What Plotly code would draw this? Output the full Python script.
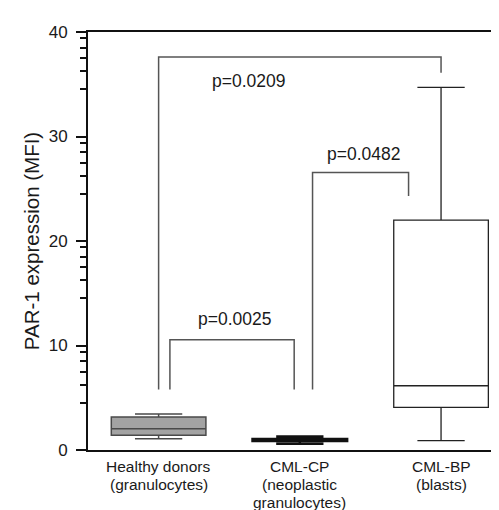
import plotly.graph_objects as go

# ---- data ----
category_lines = [["Healthy donors", "(granulocytes)"],
                  ["CML-CP", "(neoplastic", "granulocytes)"],
                  ["CML-BP", "(blasts)"]]
lower_whisker = [1.08, 0.60, 0.89]
q1_vals = [1.40, 0.85, 4.08]
median_vals = [2.04, 0.95, 6.15]
q3_vals = [3.16, 1.05, 22.0]
upper_whisker = [3.44, 1.30, 34.7]

# significance brackets
bracket_x_left = [0.08, 0.0, 1.09]
bracket_x_right = [0.96, 2.0, 1.77]
bracket_y_top = [10.55, 37.6, 26.55]
bracket_y_left_end = [5.8, 5.8, 5.8]
bracket_y_right_end = [5.8, 36.1, 24.3]
p_labels = ["p=0.0025", "p=0.0209", "p=0.0482"]
p_label_x = [0.535, 0.64, 1.45]
p_label_y = [12.5, 35.3, 28.3]

y_major_ticks = [0, 10, 20, 30, 40]
minor_offsets = [0.6, 1.5, 2.5, 3.75, 5.5]

# ---- styles ----
FONT = "Liberation Sans, Arial"
TXT = "#1a1a1a"
fills = ["#a3a3a3", "#a3a3a3", "white"]
line_colors = ["#4a4a4a", "#111111", "#222222"]
line_widths = [1.5, 2.5, 1.3]

fig = go.Figure()
for i in range(len(category_lines)):
    fig.add_trace(go.Box(
        x=[i], q1=[q1_vals[i]], median=[median_vals[i]], q3=[q3_vals[i]],
        lowerfence=[lower_whisker[i]], upperfence=[upper_whisker[i]],
        width=0.67, whiskerwidth=0.5, boxpoints=False,
        fillcolor=fills[i], line=dict(color=line_colors[i], width=line_widths[i]),
        showlegend=False, hoverinfo="skip",
    ))

for xl, xr, yt, yl, yr in zip(bracket_x_left, bracket_x_right, bracket_y_top,
                              bracket_y_left_end, bracket_y_right_end):
    fig.add_trace(go.Scatter(
        x=[xl, xl, xr, xr], y=[yl, yt, yt, yr], mode="lines",
        line=dict(color="#555555", width=1.5), showlegend=False, hoverinfo="skip",
    ))

for t, x, y in zip(p_labels, p_label_x, p_label_y):
    fig.add_annotation(x=x, y=y, text=t, showarrow=False,
                       font=dict(size=17.5, color=TXT, family=FONT))

# category labels (one annotation per line for tight line spacing)
for i, lines in enumerate(category_lines):
    for j, line in enumerate(lines):
        fig.add_annotation(x=i, y=0, xref="x", yref="y", text=line, showarrow=False,
                           yanchor="middle", yshift=-16 - 18 * j,
                           font=dict(size=15.5, color=TXT, family=FONT))

minor_vals = [m - o for m in y_major_ticks if m > 0 for o in minor_offsets]

fig.update_layout(
    width=499, height=510,
    margin=dict(l=80, r=0, t=24, b=68),
    plot_bgcolor="white", paper_bgcolor="white",
    font=dict(family=FONT, size=15, color=TXT),
    xaxis=dict(
        range=[-0.5, 2.467], tickvals=[0, 1, 2], showticklabels=False,
        showline=True, mirror=True, linecolor="#111111", linewidth=2,
        ticks="", showgrid=False, zeroline=False,
    ),
    yaxis=dict(
        range=[0, 40], tickvals=y_major_ticks,
        showline=True, mirror=False, linecolor="#111111", linewidth=2,
        ticks="outside", ticklen=10, tickwidth=2, tickcolor="#111111",
        ticklabelstandoff=5,
        minor=dict(tickvals=minor_vals, ticks="outside", ticklen=6, tickwidth=2, tickcolor="#111111"),
        showgrid=False, zeroline=False,
        tickfont=dict(size=17, color=TXT),
        title=dict(text="PAR-1 expression (MFI)", font=dict(size=20.5, color=TXT), standoff=4),
    ),
)

fig.write_html("out.html")
